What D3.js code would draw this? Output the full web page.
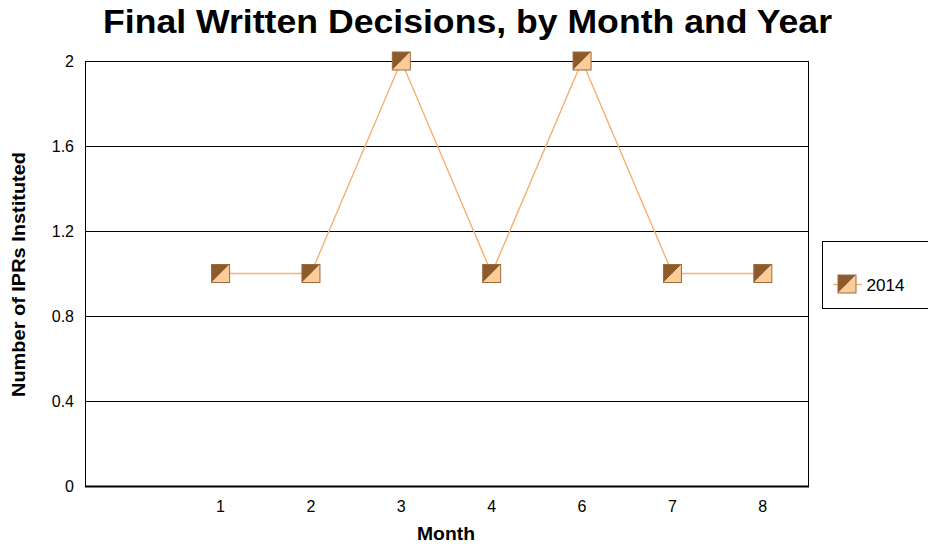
<!DOCTYPE html>
<html><head><meta charset="utf-8">
<script src="https://cdn.jsdelivr.net/npm/d3@7"></script>
<style>body{margin:0;background:#fff}svg{display:block;font-family:"Liberation Sans",Arial,sans-serif}</style>
</head><body>
<svg id="c" width="928" height="550"></svg>
<script>
const months = ["", "1", "2", "3", "4", "6", "7", "8"];
const values2014 = [null, 1, 1, 2, 1, 2, 1, 1];
const yTicks = [0, 0.4, 0.8, 1.2, 1.6, 2];
const seriesName = "2014";
const title = "Final Written Decisions, by Month and Year";

const svg = d3.select("#c");
const m = {l: 85, t: 61, r: 808, b: 486};
const x = d3.scaleBand().domain(months).range([m.l, m.r]);
const y = d3.scaleLinear().domain([0, 2]).range([m.b, m.t]);

svg.append("text").attr("x", 467.5).attr("y", 33).attr("text-anchor", "middle")
  .attr("font-size", 33).attr("font-weight", "bold")
  .attr("textLength", 729).attr("lengthAdjust", "spacingAndGlyphs").text(title);

// gridlines
svg.append("g").selectAll("line").data(yTicks).join("line")
  .attr("x1", m.l).attr("x2", m.r).attr("y1", d => y(d) + 0.5).attr("y2", d => y(d) + 0.5)
  .attr("stroke", "#000").attr("stroke-width", 1);
// box
svg.append("rect").attr("x", m.l + 0.5).attr("y", m.t + 0.5).attr("width", m.r - m.l).attr("height", m.b - m.t)
  .attr("fill", "none").attr("stroke", "#000");
svg.append("line").attr("x1", m.l).attr("x2", m.r + 1).attr("y1", m.b + 0.5).attr("y2", m.b + 0.5)
  .attr("stroke", "#000").attr("stroke-width", 2);

// y axis labels
const ya = svg.append("g").attr("transform", `translate(${m.l},0)`)
  .call(d3.axisLeft(y).tickValues(yTicks).tickSize(0).tickPadding(11).tickFormat(d => String(d)));
ya.select(".domain").remove();
ya.selectAll("text").attr("font-size", 16).attr("font-family", "Liberation Sans, Arial").attr("fill", "#000");

// x axis labels
const xa = svg.append("g").attr("transform", `translate(0,${m.b})`)
  .call(d3.axisBottom(x).tickSize(0).tickPadding(0));
xa.select(".domain").remove();
xa.selectAll("text").attr("font-size", 16).attr("font-family", "Liberation Sans, Arial").attr("fill", "#000")
  .attr("dy", null).attr("y", 26);

svg.append("text").attr("transform", "translate(25,274.5) rotate(-90)").attr("text-anchor", "middle")
  .attr("font-size", 18.5).attr("font-weight", "bold")
  .attr("textLength", 245).attr("lengthAdjust", "spacingAndGlyphs").text("Number of IPRs Instituted");
svg.append("text").attr("x", 446).attr("y", 540).attr("text-anchor", "middle")
  .attr("font-size", 18.5).attr("font-weight", "bold")
  .attr("textLength", 58).attr("lengthAdjust", "spacingAndGlyphs").text("Month");

const pts = months.map((mo, i) => ({mo, v: values2014[i]})).filter(d => d.v != null);
const cx = d => x(d.mo) + x.bandwidth() / 2;
svg.append("path").datum(pts)
  .attr("d", d3.line().x(cx).y(d => y(d.v)))
  .attr("fill", "none").attr("stroke", "#f5b070").attr("stroke-width", 1.4);

const S = 18;
function marker(g) {
  g.append("path").attr("d", `M${-S/2},${-S/2}H${S/2}L${-S/2},${S/2}Z`).attr("fill", "#8d5a2b");
  g.append("path").attr("d", `M${S/2},${-S/2}V${S/2}H${-S/2}Z`).attr("fill", "#fbcb98");
  g.append("rect").attr("x", -S/2).attr("y", -S/2).attr("width", S).attr("height", S)
    .attr("fill", "none").attr("stroke", "#9a6a3e").attr("stroke-width", 1);
}
svg.append("g").selectAll("g").data(pts).join("g")
  .attr("transform", d => `translate(${cx(d)},${y(d.v)})`).each(function() { marker(d3.select(this)); });

// legend
svg.append("rect").attr("x", 822.5).attr("y", 241.5).attr("width", 120).attr("height", 67)
  .attr("fill", "#fff").attr("stroke", "#000");
svg.append("line").attr("x1", 833).attr("x2", 862).attr("y1", 284.5).attr("y2", 284.5)
  .attr("stroke", "#f5b070").attr("stroke-width", 1.4);
const lg = svg.append("g").attr("transform", "translate(847,284)");
marker(lg);
svg.append("text").attr("x", 866.5).attr("y", 291).attr("font-size", 16.5)
  .attr("textLength", 38).attr("lengthAdjust", "spacingAndGlyphs").text(seriesName);
</script>
</body></html>
